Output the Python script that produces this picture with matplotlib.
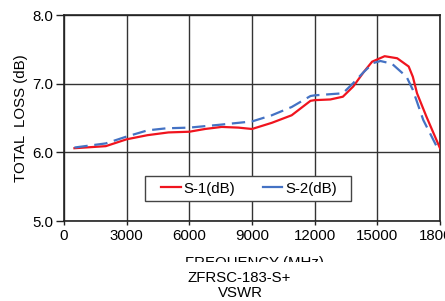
import matplotlib.pyplot as plt
from matplotlib.lines import Line2D
from matplotlib.patches import Rectangle

plt.rcParams['font.family'] = ['Liberation Sans', 'DejaVu Sans']

# frequency (MHz) and total loss (dB)
freq_s1 = [500, 2000, 3000, 4000, 5000, 6000, 6750, 7550, 8350, 9000, 9950, 10900,
           11800, 12000, 12750, 13350, 13850, 14350, 14750, 15350, 15950, 16500,
           16700, 16900, 17350, 18000]
loss_s1 = [6.06, 6.09, 6.19, 6.25, 6.29, 6.30, 6.34, 6.37, 6.36, 6.34, 6.43, 6.54,
           6.75, 6.76, 6.77, 6.81, 6.96, 7.17, 7.32, 7.40, 7.37, 7.25,
           7.10, 6.86, 6.52, 6.06]

freq_s2 = [500, 2000, 3000, 4000, 4900, 6000, 7400, 9000, 9950, 10900, 11800, 12000,
           13350, 13850, 14350, 14800, 15150, 15700, 16400, 16700, 17200, 17950]
loss_s2 = [6.07, 6.13, 6.23, 6.32, 6.35, 6.36, 6.40, 6.45, 6.54, 6.66, 6.82, 6.83,
           6.86, 7.01, 7.17, 7.30, 7.33, 7.29, 7.10, 6.91, 6.47, 6.02]

xticks = [0, 3000, 6000, 9000, 12000, 15000, 18000]
yticks = [5.0, 6.0, 7.0, 8.0]

red = '#f0141e'
blue = '#4472c4'
fs = 10.8

fig = plt.figure(figsize=(4.45, 3.01), dpi=100)
ax = fig.add_axes([64 / 445, 1 - 221 / 301, 376 / 445, 206 / 301])

ax.plot(freq_s1, loss_s1, '-', color=red, lw=1.6, zorder=3)
ax.plot(freq_s2, loss_s2, '--', color=blue, lw=1.6, dashes=(6, 3), zorder=3)

ax.set_xlim(0, 18000)
ax.set_ylim(5.0, 8.0)
ax.set_xticks(xticks)
ax.set_yticks(yticks)
ax.set_yticklabels([f"{v:.1f}" for v in yticks])
ax.tick_params(labelsize=fs, width=1, color='#222222')
ax.tick_params(axis='y', length=6, direction='out', pad=2)
ax.tick_params(axis='x', length=3, pad=3)
ax.grid(True, color='#333333', lw=1)
ax.set_axisbelow(True)
for s in ax.spines.values():
    s.set_color('#222222')
    s.set_linewidth(1.2)

ax.set_ylabel("TOTAL  LOSS (dB)", fontsize=fs, labelpad=3)

# legend frame drawn by hand, it is wider than the entries
ax.add_patch(Rectangle((81 / 376, 1 - 186 / 206), 206 / 376, 25 / 206,
                       transform=ax.transAxes, facecolor='white',
                       edgecolor='#444444', lw=1, zorder=4))
handles = [Line2D([], [], color=red, lw=1.6), Line2D([], [], color=blue, lw=1.6)]
leg = ax.legend(handles, ["S-1(dB)", "S-2(dB)"], loc='center',
                bbox_to_anchor=(185 / 376, 1 - 173.5 / 206), ncol=2, fontsize=fs,
                handlelength=1.3, handletextpad=0.2, frameon=False,
                columnspacing=1.8)
leg.set_zorder(5)

# x label, partly hidden like in the source image
fig.text(255 / 445, 1 - 256 / 301, "FREQUENCY (MHz)", ha='center', va='top', fontsize=fs)
fig.patches.append(Rectangle((0, 1 - 271 / 301), 1, 9 / 301, transform=fig.transFigure,
                             facecolor='white', edgecolor='none', zorder=5))

fig.text(239 / 445, 1 - 271 / 301, "ZFRSC-183-S+", ha='center', va='top',
         fontsize=fs, zorder=6)
fig.text(240 / 445, 1 - 286 / 301, "VSWR", ha='center', va='top', fontsize=fs, zorder=6)

fig.savefig("out.png", dpi=100)
